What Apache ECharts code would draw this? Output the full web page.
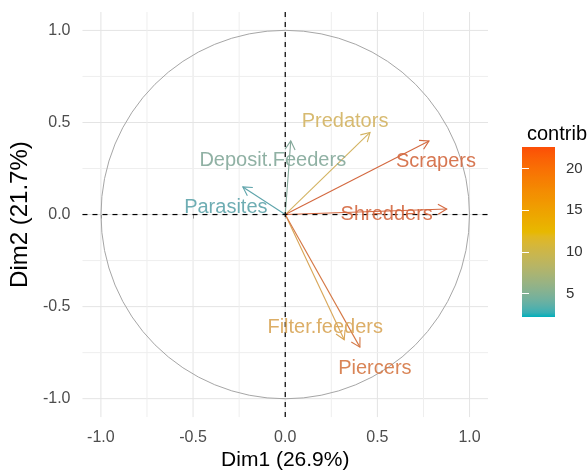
<!DOCTYPE html>
<html>
<head>
<meta charset="utf-8">
<script src="https://cdn.jsdelivr.net/npm/echarts@6/dist/echarts.min.js"></script>
<style>
html,body{margin:0;padding:0;background:#fff;}
#chart{width:588px;height:476px;}
</style>
</head>
<body>
<div id="chart"></div>
<script>
// ---- data ----
const varNames = ['Predators', 'Scrapers', 'Shredders', 'Deposit.Feeders', 'Parasites', 'Filter.feeders', 'Piercers'];
const dim1 = [0.46, 0.78, 0.876, 0.03, -0.23, 0.32, 0.405];
const dim2 = [0.446, 0.40, 0.03, 0.40, 0.15, -0.68, -0.72];
const contrib = [11.9, 22.6, 22.5, 4.5, 2.2, 14.5, 20.5];
const axisTicks = [-1, -0.5, 0, 0.5, 1];
const minorBreaks = [-0.75, -0.25, 0.25, 0.75];
const legendTicks = [5, 10, 15, 20];
const palette = ['#00AFBB', '#E7B800', '#FC4E07'];

// ---- layout / style (not data) ----
const FONT = '"Liberation Sans", Arial, sans-serif';
const labelOffset = {
  'Predators': [-25, -11],
  'Scrapers': [7, 21],
  'Shredders': [-60, 5],
  'Deposit.Feeders': [-18, 20],
  'Parasites': [-17, 21],
  'Filter.feeders': [-19, -12],
  'Piercers': [15, 21]
};

// ---- colour helpers: CIELAB interpolation like ggplot's gradientn ----
function hexToRgb(h){h=h.replace('#','');return [parseInt(h.substr(0,2),16),parseInt(h.substr(2,2),16),parseInt(h.substr(4,2),16)];}
function toLin(c){c/=255;return c<=0.04045?c/12.92:Math.pow((c+0.055)/1.055,2.4);}
function fromLin(c){const v=c<=0.0031308?12.92*c:1.055*Math.pow(c,1/2.4)-0.055;return Math.round(Math.max(0,Math.min(1,v))*255);}
const Xn=0.95047,Yn=1,Zn=1.08883;
function fLab(t){return t>0.008856?Math.cbrt(t):7.787*t+16/116;}
function fInv(t){const t3=t*t*t;return t3>0.008856?t3:(t-16/116)/7.787;}
function rgbToLab(rgb){
  const r=toLin(rgb[0]),g=toLin(rgb[1]),b=toLin(rgb[2]);
  const X=0.4124564*r+0.3575761*g+0.1804375*b;
  const Y=0.2126729*r+0.7151522*g+0.0721750*b;
  const Z=0.0193339*r+0.1191920*g+0.9503041*b;
  const fx=fLab(X/Xn),fy=fLab(Y/Yn),fz=fLab(Z/Zn);
  return [116*fy-16,500*(fx-fy),200*(fy-fz)];
}
function labToHex(lab){
  const fy=(lab[0]+16)/116,fx=fy+lab[1]/500,fz=fy-lab[2]/200;
  const X=fInv(fx)*Xn,Y=fInv(fy)*Yn,Z=fInv(fz)*Zn;
  const r=3.2404542*X-1.5371385*Y-0.4985314*Z;
  const g=-0.9692660*X+1.8760108*Y+0.0415560*Z;
  const b=0.0556434*X-0.2040259*Y+1.0572252*Z;
  return '#'+[fromLin(r),fromLin(g),fromLin(b)].map(v=>v.toString(16).padStart(2,'0')).join('');
}
const palLab = palette.map(c=>rgbToLab(hexToRgb(c)));
const cMin = Math.min.apply(null, contrib), cMax = Math.max.apply(null, contrib);
function labAtT(t){
  t=Math.max(0,Math.min(1,t));
  const seg=t*(palLab.length-1);
  const i=Math.min(Math.floor(seg),palLab.length-2);
  const f=seg-i;
  const a=palLab[i],b=palLab[i+1];
  return [a[0]+(b[0]-a[0])*f,a[1]+(b[1]-a[1])*f,a[2]+(b[2]-a[2])*f];
}
function colorAtT(t){return labToHex(labAtT(t));}
// thin marks in the picture look softer (less chroma)
function markColor(v){
  const l=labAtT((v-cMin)/(cMax-cMin));
  return labToHex([l[0]-2, l[1]*0.62, l[2]*0.62]);
}

const gradStops=[];
for(let k=0;k<=40;k++){const t=k/40;gradStops.push({offset:t,color:colorAtT(1-t)});}

const chart = echarts.init(document.getElementById('chart'), null, {renderer:'canvas'});

const gridDefs = [];
axisTicks.forEach(v=>{gridDefs.push([v,0,1]);gridDefs.push([v,1,1]);});
minorBreaks.forEach(v=>{gridDefs.push([v,0,0]);gridDefs.push([v,1,0]);});

const option = {
  backgroundColor:'#fff',
  animation:false,
  title:{text:'contrib', left:522, top:119, textStyle:{fontSize:20, fontWeight:'normal', color:'#000', fontFamily:FONT}},
  grid:[
    {left:81, top:12, width:407, height:409},
    {left:522, top:147, width:33, height:170}
  ],
  xAxis:[
    {type:'value', gridIndex:0, min:-1.1, max:1.1,
     axisLine:{show:false}, splitLine:{show:false},
     axisTick:{show:true, customValues:axisTicks, length:4, lineStyle:{color:'#333', width:1}},
     axisLabel:{customValues:axisTicks, formatter:v=>v.toFixed(1), fontSize:16, color:'#4d4d4d', margin:12, fontFamily:FONT},
     name:'Dim1 (26.9%)', nameLocation:'middle', nameGap:30,
     nameTextStyle:{fontSize:21, color:'#000', fontFamily:FONT}},
    {type:'value', gridIndex:1, min:0, max:1, show:false}
  ],
  yAxis:[
    {type:'value', gridIndex:0, min:-1.1, max:1.1,
     axisLine:{show:false}, splitLine:{show:false},
     axisTick:{show:true, customValues:axisTicks, length:4, lineStyle:{color:'#333', width:1}},
     axisLabel:{customValues:axisTicks, formatter:v=>v.toFixed(1), fontSize:16, color:'#4d4d4d', margin:12, fontFamily:FONT},
     name:'Dim2 (21.7%)', nameLocation:'middle', nameGap:46, nameRotate:90,
     nameTextStyle:{fontSize:24, color:'#000', fontFamily:FONT}},
    {type:'value', gridIndex:1, min:cMin, max:cMax, position:'right', z:10,
     axisLine:{show:false}, splitLine:{show:false},
     axisTick:{show:true, inside:true, customValues:legendTicks, length:7, lineStyle:{color:'#fff', width:1}},
     axisLabel:{customValues:legendTicks, fontSize:15, color:'#333', margin:11, fontFamily:FONT}},
    {type:'value', gridIndex:1, min:cMin, max:cMax, position:'left', z:10,
     axisLine:{show:false}, splitLine:{show:false},
     axisTick:{show:true, inside:true, customValues:legendTicks, length:7, lineStyle:{color:'#fff', width:1}},
     axisLabel:{show:false}}
  ],
  series:[
    { // grid lines
      type:'custom', xAxisIndex:0, yAxisIndex:0, z:1, silent:true,
      data:gridDefs.map((d,i)=>[i]),
      renderItem:function(params, api){
        const d=gridDefs[params.dataIndex];
        const cs=params.coordSys;
        const col=d[2]?'#e4e4e4':'#eeeeee';
        if(d[1]===0){
          const x=api.coord([d[0],0])[0];
          return {type:'line', shape:{x1:x,y1:cs.y,x2:x,y2:cs.y+cs.height}, style:{stroke:col,lineWidth:1}};
        } else {
          const y=api.coord([0,d[0]])[1];
          return {type:'line', shape:{x1:cs.x,y1:y,x2:cs.x+cs.width,y2:y}, style:{stroke:col,lineWidth:1}};
        }
      }
    },
    { // correlation circle (radius 1)
      type:'custom', xAxisIndex:0, yAxisIndex:0, z:2, silent:true,
      data:[[0,0]],
      renderItem:function(params, api){
        const c=api.coord([0,0]);
        const s=api.size([1,1]);
        return {type:'circle', shape:{cx:c[0],cy:c[1],r:(s[0]+s[1])/2}, style:{stroke:'#a6a6a6',fill:null,lineWidth:1}};
      }
    },
    { // arrows
      type:'custom', xAxisIndex:0, yAxisIndex:0, z:3, silent:true,
      data:varNames.map((n,i)=>[dim1[i],dim2[i],contrib[i]]),
      renderItem:function(params, api){
        const p0=api.coord([0,0]);
        const p1=api.coord([api.value(0),api.value(1)]);
        const col=markColor(api.value(2));
        const ang=Math.atan2(p1[1]-p0[1],p1[0]-p0[0]);
        const L=10,a=Math.PI/6;
        const h1=[p1[0]-L*Math.cos(ang-a),p1[1]-L*Math.sin(ang-a)];
        const h2=[p1[0]-L*Math.cos(ang+a),p1[1]-L*Math.sin(ang+a)];
        return {type:'group', children:[
          {type:'line', shape:{x1:p0[0],y1:p0[1],x2:p1[0],y2:p1[1]}, style:{stroke:col,lineWidth:1.1}},
          {type:'polyline', shape:{points:[h1,p1,h2]}, style:{stroke:col,fill:null,lineWidth:1.1}}
        ]};
      }
    },
    { // dashed axes at 0
      type:'custom', xAxisIndex:0, yAxisIndex:0, z:4, silent:true,
      data:[[0,0]],
      renderItem:function(params, api){
        const cs=params.coordSys;
        const c=api.coord([0,0]);
        const st={stroke:'#000',lineWidth:1.2,lineDash:[5,5]};
        return {type:'group', children:[
          {type:'line', shape:{x1:cs.x,y1:c[1],x2:cs.x+cs.width,y2:c[1]}, style:st},
          {type:'line', shape:{x1:c[0],y1:cs.y,x2:c[0],y2:cs.y+cs.height}, style:st}
        ]};
      }
    },
    { // variable labels
      type:'custom', xAxisIndex:0, yAxisIndex:0, z:5, silent:true,
      data:varNames.map((n,i)=>[dim1[i],dim2[i],contrib[i]]),
      renderItem:function(params, api){
        const i=params.dataIndex;
        const p1=api.coord([api.value(0),api.value(1)]);
        const off=labelOffset[varNames[i]];
        return {type:'text', x:p1[0]+off[0], y:p1[1]+off[1],
          style:{text:varNames[i], fill:markColor(api.value(2)), opacity:0.9, fontSize:20, fontFamily:FONT, align:'center', verticalAlign:'middle'}};
      }
    },
    { // colour bar
      type:'custom', xAxisIndex:1, yAxisIndex:1, z:2, silent:true,
      data:[[0]],
      renderItem:function(params, api){
        const a=api.coord([0,cMax]);
        const b=api.coord([1,cMin]);
        return {type:'rect', shape:{x:a[0],y:a[1],width:b[0]-a[0],height:b[1]-a[1]},
          style:{fill:new echarts.graphic.LinearGradient(0,0,0,1,gradStops)}};
      }
    }
  ]
};
chart.setOption(option);
</script>
</body>
</html>
